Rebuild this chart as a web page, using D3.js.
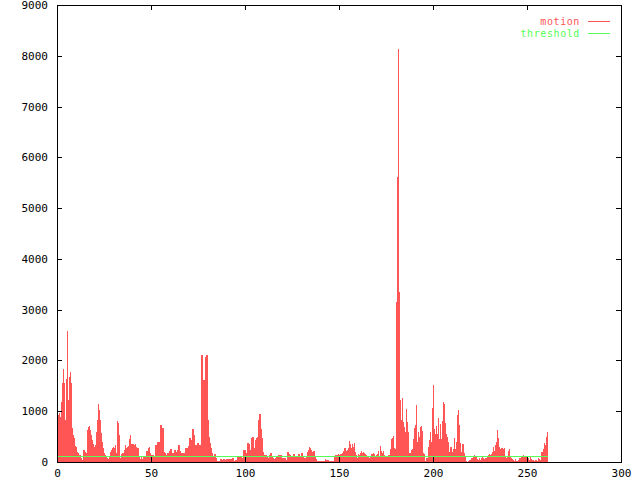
<!DOCTYPE html>
<html>
<head>
<meta charset="utf-8">
<script src="https://cdn.jsdelivr.net/npm/d3@7"></script>
<style>
  body { margin: 0; background: #fff; }
  svg { display: block; }
  text { font-family: "DejaVu Sans Mono", monospace; font-size: 11px; }
</style>
</head>
<body>
<svg id="chart" width="640" height="480"></svg>
<script>

// Motion samples (one every sampleStep seconds, starting at 0)
var sampleStep = 0.533;
var motion = [
  1040, 925, 960, 890, 1190, 1550, 1840, 1550, 830, 1630, 2580, 1220, 1680, 1780, 1550, 660,
  530, 470, 315, 300, 200, 170, 140, 140, 70, 40, 240, 240, 200, 170, 630, 680,
  710, 630, 530, 430, 350, 300, 335, 600, 830, 1140, 1020, 830, 565, 400, 270, 170,
  140, 105, 70, 50, 105, 200, 240, 270, 300, 270, 335, 170, 800, 760, 530, 80,
  160, 170, 170, 240, 330, 270, 300, 310, 460, 530, 350, 350, 360, 335, 350, 300,
  270, 270, 100, 50, 100, 50, 105, 125, 105, 215, 215, 270, 300, 180, 140, 130,
  140, 90, 330, 330, 400, 330, 400, 730, 500, 660, 200, 185, 140, 105, 170, 140,
  215, 250, 170, 140, 185, 240, 185, 200, 240, 330, 215, 140, 180, 170, 180, 150,
  270, 270, 270, 315, 480, 430, 370, 650, 530, 270, 335, 270, 370, 270, 335, 220,
  2100, 1060, 1610, 1520, 2070, 2100, 830, 500, 370, 270, 170, 105, 70, 150, 70, 25,
  25, 25, 25, 50, 40, 40, 50, 25, 40, 50, 40, 50, 40, 50, 20, 70,
  25, 10, 40, 40, 90, 70, 90, 90, 40, 70, 240, 240,
  140, 170, 370, 350, 240, 240, 470, 500, 200, 270, 430, 470, 500, 830, 940, 650,
  470, 200, 140, 125, 140, 105, 40, 70, 140, 185, 125, 85, 50, 40, 70, 90,
  85, 140, 125, 140, 85, 60, 85, 70, 40, 40, 200, 160, 140, 105, 125, 85,
  150, 125, 70, 105, 70, 150, 125, 85, 180, 105, 70, 70, 125, 200, 240, 300,
  280, 240, 200, 215, 215, 125, 60, 20, 20, 20, 20, 20, 20, 20, 20, 60,
  40, 40, 40, 20, 20, 20, 20, 20, 105, 140, 140, 140, 150, 140, 150, 150,
  170, 215, 270, 280, 215, 240, 270, 410, 350, 270, 350, 300, 380, 200, 140, 85,
  150, 140, 170, 215, 185, 200, 170, 150, 140, 105, 105, 85, 105, 150, 150, 170,
  150, 125, 140, 150, 220, 105, 320,
  220, 185, 220, 140, 90, 110, 110, 140, 140, 250, 450, 480, 510, 270, 250, 3160,
  5620, 8130, 3350, 1220, 830, 1270, 780, 680, 600, 1040, 790, 600, 185, 185, 240, 250,
  450, 660, 730, 1120, 400, 600, 500, 680, 710, 620, 185, 160, 15,
  70, 70, 300, 430, 600, 400, 1060, 1520, 650, 550, 700, 550, 870, 450, 740, 450,
  810, 1180, 1150, 760, 550, 500, 400, 200, 300, 290, 190, 260, 480, 260, 400, 920,
  1020, 730, 370, 190, 350, 350, 170, 125, 20, 0, 20, 40, 40, 70, 70, 125,
  140, 120, 105, 60, 40, 70, 40, 85, 125, 70, 60, 85, 70, 105, 140, 150,
  140, 150, 190, 300, 220, 330, 400, 630, 480, 300, 260, 270, 270, 260, 270, 105,
  85, 105, 220, 260, 105, 70, 60, 40, 20, 60, 20, 20, 40, 70, 85, 105,
  120, 140, 105, 105, 120, 60, 70, 40, 105, 60, 40, 40, 20, 40, 40, 20,
  70, 60, 40, 190, 190, 260, 370, 340, 500, 600
];
var threshold = 100;

var xTicks = [0, 50, 100, 150, 200, 250, 300];
var yTicks = [0, 1000, 2000, 3000, 4000, 5000, 6000, 7000, 8000, 9000];

var legendNames = ["motion", "threshold"];
var motionColor = "#ff5555",
    thresholdColor = "#55ff55";

var svg = d3.select("#chart");
var margin = {top: 5, right: 19, bottom: 18, left: 57},
    width = +svg.attr("width") - margin.left - margin.right,
    height = +svg.attr("height") - margin.top - margin.bottom;

var x = d3.scaleLinear().domain([0, 300]).range([0, width]);
var y = d3.scaleLinear().domain([0, 9000]).range([height, 0]);

var g = svg.append("g").attr("transform", "translate(" + margin.left + "," + margin.top + ")");

// Motion samples as filled boxes
var barW = x(sampleStep) - x(0);
g.append("g").selectAll("rect")
    .data(motion)
    .enter().append("rect")
    .attr("x", function(d, i) { return x(i * sampleStep); })
    .attr("y", function(d) { return y(d); })
    .attr("width", barW + 0.3)
    .attr("height", function(d) { return height - y(d); })
    .attr("fill", motionColor)
    .attr("shape-rendering", "crispEdges");

// Threshold line over the whole sampled range
var tEnd = motion.length * sampleStep;
g.append("path")
    .datum([0, tEnd])
    .attr("fill", "none")
    .attr("stroke", thresholdColor)
    .attr("stroke-width", 1)
    .attr("shape-rendering", "crispEdges")
    .attr("d", d3.line().x(function(d) { return x(d); }).y(function() { return y(threshold); }));

// Axes: ticks point inward, mirrored on top/right
var tickLen = 5;
var fmt = d3.format("d");
g.append("g").attr("transform", "translate(0," + height + ")")
    .call(d3.axisBottom(x).tickValues(xTicks).tickSizeInner(-tickLen).tickSizeOuter(0).tickPadding(7).tickFormat(fmt));
g.append("g")
    .call(d3.axisTop(x).tickValues(xTicks).tickSizeInner(-tickLen).tickSizeOuter(0).tickFormat(""));
g.append("g")
    .call(d3.axisLeft(y).tickValues(yTicks).tickSizeInner(-tickLen).tickSizeOuter(0).tickPadding(9).tickFormat(fmt));
g.append("g").attr("transform", "translate(" + width + ",0)")
    .call(d3.axisRight(y).tickValues(yTicks).tickSizeInner(-tickLen).tickSizeOuter(0).tickFormat(""));

g.selectAll(".domain").remove();
g.selectAll(".tick line").attr("stroke", "#000").attr("shape-rendering", "crispEdges");
g.selectAll(".tick text").attr("fill", "#000")
    .style("font-family", "'DejaVu Sans Mono', monospace").style("font-size", "11px");

// Border
g.append("rect")
    .attr("width", width).attr("height", height)
    .attr("fill", "none").attr("stroke", "#000")
    .attr("shape-rendering", "crispEdges");

// Legend (top right, text right-aligned, sample line after it)
var legend = svg.append("g").selectAll("g")
    .data(legendNames)
    .enter().append("g")
    .attr("transform", function(d, i) { return "translate(580," + (21 + i * 12) + ")"; });
legend.append("text")
    .attr("text-anchor", "end")
    .attr("dy", "0.35em")
    .style("font-size", "10px")
    .style("letter-spacing", "0.6px")
    .attr("fill", function(d, i) { return i === 0 ? motionColor : thresholdColor; })
    .text(function(d) { return d; });
legend.append("line")
    .attr("x1", 8).attr("x2", 30)
    .attr("stroke", function(d, i) { return i === 0 ? motionColor : thresholdColor; })
    .attr("shape-rendering", "crispEdges");

</script>
</body>
</html>
